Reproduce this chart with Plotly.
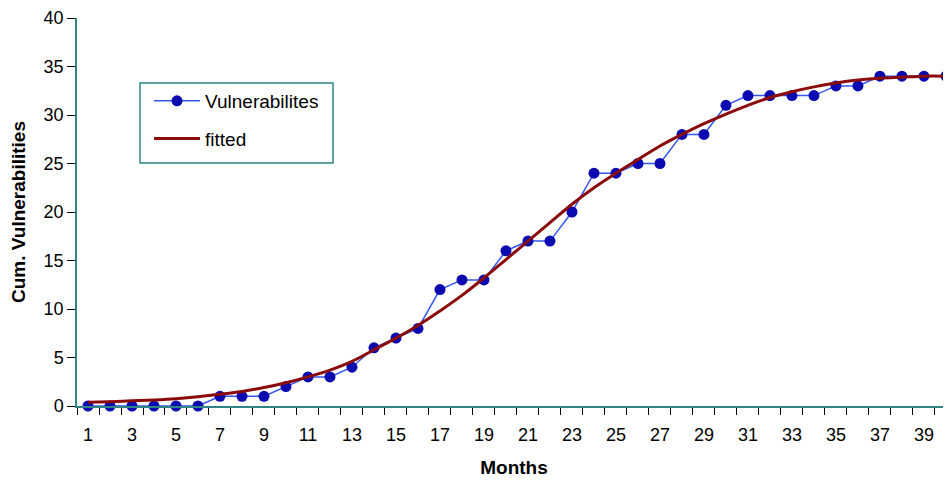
import plotly.graph_objects as go

months = list(range(1, 41))
vulnerabilities = [0, 0, 0, 0, 0, 0, 1, 1, 1, 2,
                   3, 3, 4, 6, 7, 8, 12, 13, 13, 16,
                   17, 17, 20, 24, 24, 25, 25, 28, 28, 31,
                   32, 32, 32, 32, 33, 33, 34, 34, 34, 34]
fitted = [0.38, 0.45, 0.53, 0.63, 0.76, 0.95, 1.2, 1.5, 1.9, 2.4,
          3.0, 3.7, 4.6, 5.8, 7.0, 8.3, 9.8, 11.4, 13.2, 15.1,
          17.0, 18.9, 20.8, 22.5, 24.0, 25.4, 26.8, 28.0, 29.1, 30.1,
          31.0, 31.8, 32.4, 32.9, 33.3, 33.6, 33.8, 33.9, 34.0, 34.0]
x_tick_labels = [str(m) for m in range(1, 41, 2)]

AXIS = "#2f8585"
FONT = "Liberation Sans, Arial, sans-serif"

fig = go.Figure()
fig.add_trace(go.Scatter(
    x=months, y=vulnerabilities, name="Vulnerabilites",
    mode="lines+markers", legendgroup="a",
    line=dict(color="#3355ee", width=1.5),
    marker=dict(color="#0a0ab0", size=11),
    cliponaxis=False,
))
fig.add_trace(go.Scatter(
    x=months, y=fitted, name="fitted", legendgroup="b",
    mode="lines",
    line=dict(color="#8b0a0a", width=3, shape="spline"),
    cliponaxis=False,
))

# legend frame
fig.add_shape(type="rect", xref="paper", yref="paper",
              x0=0.0721, x1=0.2929, y0=0.626, y1=0.8325,
              line=dict(color=AXIS, width=1.5), fillcolor="white", layer="above")

fig.update_layout(
    width=943, height=472,
    margin=dict(l=69, r=0, t=10, b=74),
    paper_bgcolor="white", plot_bgcolor="white",
    font=dict(family=FONT, color="black", size=18),
    legend=dict(
        x=0.0824, y=0.835, xanchor="left", yanchor="top",
        borderwidth=0, bgcolor="rgba(0,0,0,0)",
        font=dict(size=19, family=FONT),
        tracegroupgap=10, itemwidth=46,
    ),
    xaxis=dict(
        range=[0.5, 40.23],
        tickmode="array",
        tickvals=list(range(1, 41, 2)),
        ticktext=x_tick_labels,
        ticks="",
        ticklabelstandoff=12,
        showgrid=False, zeroline=False,
        showline=True, linecolor=AXIS, linewidth=1.5,
        minor=dict(ticks="outside", tick0=0.5, dtick=1, ticklen=7,
                   tickcolor="black", showgrid=False),
        tickfont=dict(size=18, family=FONT),
        title=dict(text="<b>Months</b>", font=dict(size=19, family=FONT), standoff=16),
    ),
    yaxis=dict(
        range=[0, 40],
        tickmode="linear", tick0=0, dtick=5,
        ticks="outside", ticklen=8, tickcolor="black",
        showgrid=False, zeroline=False,
        showline=True, linecolor=AXIS, linewidth=1.5,
        tickfont=dict(size=18, family=FONT),
        title=dict(text="<b>Cum. Vulnerabilities</b>", font=dict(size=19, family=FONT), standoff=14),
    ),
)

fig.write_html("out.html")
